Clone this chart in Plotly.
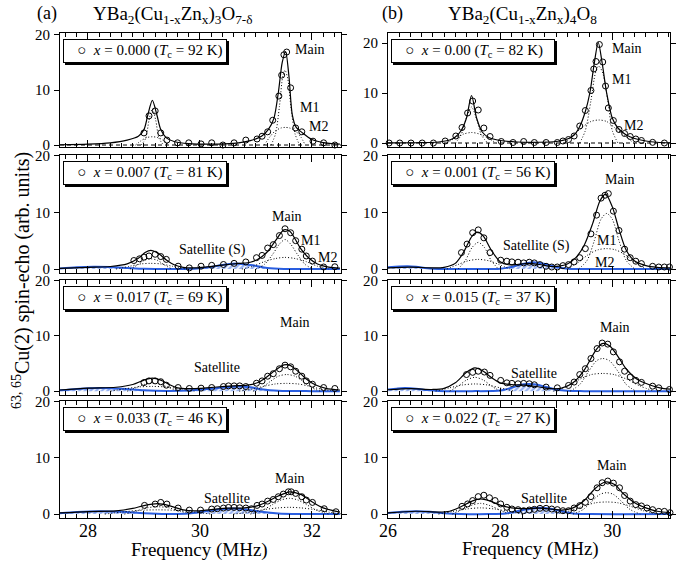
import plotly.graph_objects as go

W, H = 693, 566
FONT = "Liberation Serif"
BLUE = "#2a5ee0"

# ---------------- data: (a) YBa2(Cu1-xZnx)3O7-d ----------------
L1_data_x = [29.0, 29.09, 29.2, 29.3, 29.41, 29.6, 29.8, 30.02, 30.21, 30.41, 30.61, 30.82, 31.02, 31.11, 31.21, 31.3, 31.41, 31.46, 31.5, 31.55, 31.62, 31.71, 31.82, 32.02, 32.21, 32.41]
L1_data_y = [2.2, 5.3, 6.2, 2.2, 0.9, 0.4, 0.4, 0.2, 0.4, 0.0, 0.4, 0.9, 1.1, 1.6, 2.4, 4.5, 8.9, 12.7, 16.4, 16.9, 10.4, 3.1, 2.4, 0.7, 0.4, 0.0]
L1_fit_x = [27.5, 28.0, 28.4, 28.7, 28.9, 29.0, 29.07, 29.15, 29.23, 29.3, 29.4, 29.55, 29.8, 30.2, 30.6, 30.9, 31.1, 31.22, 31.32, 31.4, 31.47, 31.53, 31.59, 31.65, 31.72, 31.82, 32.0, 32.2, 32.5]
L1_fit_y = [0.05, 0.15, 0.4, 0.9, 1.6, 2.8, 5.5, 8.1, 5.5, 2.8, 1.3, 0.6, 0.25, 0.15, 0.3, 0.8, 1.6, 2.8, 4.8, 9.5, 15.0, 17.0, 12.5, 5.5, 3.2, 2.3, 1.0, 0.45, 0.15]
L1_a1_x = [28.95, 29.03, 29.09, 29.15, 29.21, 29.27, 29.35]
L1_a1_y = [0, 1.2, 4.5, 6.6, 4.5, 1.2, 0]
L1_a2_x = [28.85, 28.95, 29.05, 29.15, 29.25, 29.35, 29.45]
L1_a2_y = [0, 0.8, 1.35, 1.5, 1.35, 0.8, 0]
L1_m1_x = [31.27, 31.35, 31.42, 31.48, 31.52, 31.57, 31.63, 31.7, 31.78]
L1_m1_y = [0, 2.0, 7.0, 12.5, 13.6, 12.0, 6.5, 2.0, 0]
L1_m2_x = [31.15, 31.25, 31.35, 31.45, 31.52, 31.6, 31.7, 31.8, 31.88]
L1_m2_y = [0, 1.5, 2.6, 3.1, 3.2, 3.1, 2.6, 1.5, 0]

L2_data_x = [28.82, 28.92, 29.0, 29.09, 29.2, 29.3, 29.4, 29.61, 29.81, 30.02, 30.21, 30.42, 30.61, 30.82, 31.01, 31.11, 31.21, 31.31, 31.42, 31.52, 31.62, 31.71, 31.82, 31.9, 32.01, 32.21, 32.41]
L2_data_y = [1.5, 1.8, 2.1, 2.3, 2.6, 2.2, 1.7, 0.5, 0.2, 0.5, 0.65, 0.8, 1.0, 1.25, 2.0, 2.4, 3.7, 4.3, 5.9, 7.1, 6.4, 5.0, 3.5, 2.3, 1.4, 0.36, 0.4]
L2_fit_x = [27.5, 28.0, 28.4, 28.7, 28.9, 29.02, 29.12, 29.25, 29.4, 29.55, 29.7, 29.85, 30.1, 30.4, 30.7, 30.9, 31.05, 31.2, 31.35, 31.5, 31.6, 31.7, 31.8, 31.95, 32.1, 32.3, 32.5]
L2_fit_y = [0.1, 0.3, 0.45, 0.9, 1.9, 2.9, 3.3, 2.8, 1.6, 0.7, 0.3, 0.2, 0.35, 0.7, 1.0, 1.2, 1.8, 3.0, 5.0, 6.9, 6.7, 5.3, 3.6, 1.9, 0.9, 0.35, 0.15]
L2_a1_x = [28.75, 28.9, 29.0, 29.12, 29.25, 29.35, 29.5]
L2_a1_y = [0, 0.8, 1.5, 1.8, 1.5, 0.8, 0]
L2_a2_x = [28.5, 28.75, 28.95, 29.12, 29.3, 29.5, 29.75]
L2_a2_y = [0, 0.5, 0.9, 1.0, 0.9, 0.5, 0]
L2_m1_x = [31.0, 31.15, 31.3, 31.42, 31.52, 31.62, 31.74, 31.88, 32.02]
L2_m1_y = [0, 0.8, 2.6, 4.4, 5.2, 4.4, 2.6, 0.8, 0]
L2_m2_x = [30.75, 30.95, 31.15, 31.35, 31.52, 31.7, 31.9, 32.1, 32.3]
L2_m2_y = [0, 0.5, 1.3, 1.85, 2.05, 1.85, 1.3, 0.5, 0]
L2_s_x = [27.5, 27.8, 28.1, 28.4, 28.7, 29.0, 29.5, 29.9, 30.2, 30.45, 30.7, 30.95, 31.2, 31.5, 32.5]
L2_s_y = [0.1, 0.3, 0.4, 0.35, 0.2, 0.05, 0, 0.05, 0.35, 0.8, 0.95, 0.65, 0.2, 0.02, 0]

L3_data_x = [29.0, 29.09, 29.2, 29.3, 29.4, 29.61, 29.81, 30.02, 30.21, 30.42, 30.51, 30.61, 30.71, 30.82, 31.01, 31.11, 31.21, 31.31, 31.42, 31.52, 31.62, 31.71, 31.82, 31.9, 32.01, 32.21, 32.41]
L3_data_y = [1.55, 1.85, 1.85, 1.7, 1.07, 0.65, 0.48, 0.54, 0.65, 0.83, 0.95, 0.95, 0.95, 0.83, 1.43, 1.85, 2.7, 3.15, 4.05, 4.7, 4.4, 3.6, 2.7, 1.85, 1.25, 0.65, 0.48]
L3_fit_x = [27.5, 28.0, 28.5, 28.8, 29.0, 29.15, 29.3, 29.45, 29.6, 29.8, 30.0, 30.3, 30.6, 30.85, 31.05, 31.2, 31.35, 31.5, 31.6, 31.75, 31.9, 32.05, 32.25, 32.5]
L3_fit_y = [0.2, 0.55, 0.7, 1.2, 2.0, 2.35, 2.0, 1.2, 0.6, 0.45, 0.5, 0.75, 0.95, 1.1, 1.6, 2.6, 3.8, 4.75, 4.7, 3.6, 2.2, 1.2, 0.5, 0.2]
L3_a1_x = [28.7, 28.85, 29.0, 29.15, 29.3, 29.45, 29.6]
L3_a1_y = [0, 0.6, 1.2, 1.45, 1.2, 0.6, 0]
L3_a2_x = [28.4, 28.65, 28.9, 29.15, 29.4, 29.65, 29.9]
L3_a2_y = [0, 0.4, 0.75, 0.85, 0.75, 0.4, 0]
L3_m1_x = [30.95, 31.1, 31.25, 31.4, 31.55, 31.7, 31.85, 32.0, 32.15]
L3_m1_y = [0, 0.6, 1.7, 2.7, 3.0, 2.7, 1.7, 0.6, 0]
L3_m2_x = [30.7, 30.95, 31.15, 31.35, 31.55, 31.75, 31.95, 32.15, 32.4]
L3_m2_y = [0, 0.4, 0.9, 1.3, 1.4, 1.3, 0.9, 0.4, 0]
L3_s_x = [27.5, 27.8, 28.2, 28.6, 29.0, 29.4, 29.8, 30.2, 30.5, 30.7, 30.9, 31.1, 31.4, 32.0, 32.5]
L3_s_y = [0.15, 0.4, 0.55, 0.45, 0.15, 0.02, 0.1, 0.45, 0.75, 0.85, 0.7, 0.35, 0.08, 0, 0]

L4_data_x = [29.01, 29.2, 29.3, 29.41, 29.61, 29.81, 30.01, 30.21, 30.31, 30.42, 30.51, 30.61, 30.71, 30.82, 30.92, 31.02, 31.11, 31.21, 31.31, 31.4, 31.49, 31.58, 31.63, 31.71, 31.82, 31.9, 32.01, 32.22, 32.43]
L4_data_y = [1.54, 1.78, 2.07, 1.78, 1.07, 0.71, 0.71, 0.89, 0.95, 1.07, 1.18, 1.18, 1.12, 1.07, 0.95, 1.54, 1.78, 2.3, 2.6, 3.08, 3.55, 3.96, 3.96, 3.67, 3.08, 2.49, 2.07, 0.95, 0.41]
L4_fit_x = [27.5, 28.0, 28.5, 28.8, 29.0, 29.25, 29.45, 29.7, 29.9, 30.2, 30.5, 30.8, 31.0, 31.2, 31.4, 31.6, 31.8, 32.0, 32.2, 32.5]
L4_fit_y = [0.2, 0.45, 0.55, 1.0, 1.5, 1.85, 1.5, 0.75, 0.55, 0.8, 1.05, 1.1, 1.4, 2.2, 3.2, 3.95, 3.5, 2.2, 1.1, 0.35]
L4_a1_x = [28.65, 28.85, 29.05, 29.25, 29.45, 29.65, 29.85]
L4_a1_y = [0, 0.5, 1.1, 1.3, 1.1, 0.5, 0]
L4_a2_x = [28.3, 28.6, 28.9, 29.25, 29.6, 29.9, 30.2]
L4_a2_y = [0, 0.35, 0.65, 0.75, 0.65, 0.35, 0]
L4_m1_x = [30.9, 31.1, 31.3, 31.45, 31.6, 31.75, 31.9, 32.1, 32.3]
L4_m1_y = [0, 0.6, 1.7, 2.5, 2.8, 2.5, 1.7, 0.6, 0]
L4_m2_x = [30.6, 30.9, 31.15, 31.4, 31.6, 31.8, 32.05, 32.3, 32.55]
L4_m2_y = [0, 0.35, 0.8, 1.1, 1.2, 1.1, 0.8, 0.35, 0]
L4_s_x = [27.5, 27.8, 28.2, 28.6, 29.0, 29.4, 29.8, 30.1, 30.4, 30.6, 30.85, 31.1, 31.4, 31.8, 32.5]
L4_s_y = [0.15, 0.35, 0.5, 0.4, 0.15, 0.02, 0.1, 0.5, 0.9, 1.0, 0.8, 0.4, 0.1, 0, 0]

# ---------------- data: (b) YBa2(Cu1-xZnx)4O8 ----------------
R1_data_x = [26.02, 26.21, 26.41, 26.61, 26.81, 27.02, 27.21, 27.32, 27.42, 27.51, 27.61, 27.71, 27.82, 28.02, 28.23, 28.42, 28.61, 28.82, 29.02, 29.12, 29.22, 29.32, 29.42, 29.52, 29.62, 29.67, 29.71, 29.77, 29.83, 29.88, 29.93, 30.02, 30.12, 30.22, 30.32, 30.42, 30.52, 30.72, 30.93]
R1_data_y = [0, 0, 0, 0, 0, 0.4, 1.4, 3.1, 6.0, 8.4, 6.6, 3.0, 1.3, 0.3, 0.1, 0.3, 0.1, 0.1, 0.1, 0.4, 0.7, 1.4, 3.4, 6.5, 10.5, 14.8, 16.3, 19.7, 16.2, 11.4, 7.0, 4.5, 2.7, 1.9, 1.3, 0.8, 0.5, 0.13, 0.0]
R1_fit_x = [26.0, 26.5, 26.9, 27.1, 27.2, 27.3, 27.4, 27.49, 27.58, 27.68, 27.8, 28.0, 28.3, 28.7, 29.0, 29.2, 29.32, 29.42, 29.52, 29.6, 29.68, 29.75, 29.82, 29.9, 30.0, 30.1, 30.25, 30.4, 30.6, 30.8, 31.03]
R1_fit_y = [0.02, 0.05, 0.2, 0.6, 1.2, 2.4, 5.0, 9.5, 5.0, 2.2, 1.1, 0.5, 0.2, 0.15, 0.3, 0.8, 1.6, 3.3, 6.3, 10.0, 16.0, 20.1, 16.0, 10.0, 5.0, 3.0, 1.6, 0.9, 0.4, 0.15, 0.05]
R1_a1_x = [27.2, 27.3, 27.39, 27.49, 27.58, 27.67, 27.78]
R1_a1_y = [0, 1.5, 4.8, 7.2, 4.8, 1.5, 0]
R1_a2_x = [27.05, 27.2, 27.35, 27.49, 27.63, 27.78, 27.93]
R1_a2_y = [0, 1.0, 1.8, 2.1, 1.8, 1.0, 0]
R1_m1_x = [29.42, 29.52, 29.62, 29.7, 29.76, 29.83, 29.92, 30.0, 30.1]
R1_m1_y = [0, 2.5, 8.5, 14.0, 15.4, 14.0, 8.5, 2.5, 0]
R1_m2_x = [29.15, 29.3, 29.45, 29.62, 29.76, 29.9, 30.05, 30.22, 30.38]
R1_m2_y = [0, 1.5, 3.0, 4.3, 4.6, 4.3, 3.0, 1.5, 0]

R2_data_x = [27.31, 27.41, 27.51, 27.61, 27.71, 27.82, 28.01, 28.12, 28.21, 28.32, 28.42, 28.52, 28.61, 28.71, 28.82, 28.92, 29.02, 29.12, 29.22, 29.32, 29.42, 29.52, 29.62, 29.72, 29.8, 29.87, 29.93, 30.02, 30.12, 30.22, 30.32, 30.42, 30.52, 30.72, 30.83, 30.93, 31.02]
R2_data_y = [2.9, 4.4, 6.4, 6.9, 5.5, 2.9, 1.56, 1.38, 1.26, 1.2, 1.08, 1.2, 1.08, 0.78, 0.48, 0.36, 0.36, 0.6, 0.78, 1.26, 2.0, 3.6, 6.2, 9.5, 12.5, 13.0, 13.3, 10.2, 6.8, 3.5, 2.0, 1.38, 0.96, 0.48, 0.36, 0.36, 0.36]
R2_fit_x = [26.0, 26.4, 26.8, 27.0, 27.2, 27.35, 27.5, 27.6, 27.7, 27.85, 28.0, 28.15, 28.3, 28.5, 28.7, 28.9, 29.05, 29.2, 29.35, 29.5, 29.65, 29.78, 29.88, 30.0, 30.12, 30.25, 30.4, 30.6, 30.8, 31.03]
R2_fit_y = [0.2, 0.35, 0.2, 0.3, 1.0, 3.0, 5.8, 6.5, 5.8, 3.2, 1.3, 0.75, 0.8, 1.0, 0.8, 0.45, 0.5, 0.9, 2.0, 4.2, 8.0, 12.0, 13.2, 11.0, 7.0, 3.3, 1.4, 0.6, 0.3, 0.2]
R2_a1_x = [27.25, 27.38, 27.5, 27.61, 27.72, 27.84, 27.97]
R2_a1_y = [0, 1.5, 3.8, 4.7, 3.8, 1.5, 0]
R2_a2_x = [27.05, 27.25, 27.43, 27.61, 27.8, 27.98, 28.18]
R2_a2_y = [0, 0.8, 1.45, 1.7, 1.45, 0.8, 0]
R2_m1_x = [29.4, 29.55, 29.68, 29.8, 29.9, 30.0, 30.12, 30.25, 30.4]
R2_m1_y = [0, 1.5, 5.0, 8.8, 9.8, 8.8, 5.0, 1.5, 0]
R2_m2_x = [29.2, 29.4, 29.58, 29.75, 29.9, 30.05, 30.22, 30.4, 30.6]
R2_m2_y = [0, 1.2, 2.6, 3.4, 3.6, 3.4, 2.6, 1.2, 0]
R2_s_x = [26.0, 26.2, 26.35, 26.5, 26.7, 26.9, 27.5, 28.0, 28.2, 28.4, 28.6, 28.8, 29.0, 29.2, 29.5, 31.03]
R2_s_y = [0.3, 0.45, 0.5, 0.4, 0.15, 0.02, 0, 0.05, 0.35, 0.9, 1.2, 0.9, 0.35, 0.05, 0, 0]

R3_data_x = [27.4, 27.51, 27.61, 27.72, 27.82, 28.01, 28.12, 28.21, 28.32, 28.42, 28.52, 28.61, 28.82, 29.02, 29.22, 29.32, 29.42, 29.52, 29.62, 29.73, 29.82, 29.92, 30.02, 30.13, 30.22, 30.32, 30.42, 30.52, 30.72, 30.83, 31.02]
R3_data_y = [3.0, 3.4, 3.6, 3.45, 2.85, 1.94, 1.5, 1.4, 1.33, 1.4, 1.33, 1.15, 0.73, 0.6, 1.03, 1.64, 3.0, 4.06, 5.9, 7.7, 8.7, 8.5, 7.1, 5.3, 3.6, 2.55, 1.94, 1.58, 0.9, 0.6, 0.3]
R3_fit_x = [26.0, 26.4, 26.8, 27.0, 27.2, 27.4, 27.55, 27.7, 27.85, 28.0, 28.2, 28.45, 28.7, 28.9, 29.1, 29.3, 29.5, 29.7, 29.82, 29.95, 30.1, 30.25, 30.45, 30.65, 30.85, 31.03]
R3_fit_y = [0.25, 0.45, 0.3, 0.5, 1.5, 3.4, 4.2, 3.6, 2.4, 1.5, 1.2, 1.1, 0.75, 0.45, 0.55, 1.5, 3.8, 7.3, 8.6, 8.2, 6.3, 4.0, 2.1, 1.2, 0.6, 0.35]
R3_a1_x = [27.1, 27.25, 27.4, 27.55, 27.7, 27.85, 28.0]
R3_a1_y = [0, 0.9, 2.0, 2.5, 2.0, 0.9, 0]
R3_a2_x = [26.85, 27.1, 27.32, 27.55, 27.78, 28.0, 28.25]
R3_a2_y = [0, 0.6, 1.1, 1.3, 1.1, 0.6, 0]
R3_m1_x = [29.25, 29.42, 29.58, 29.72, 29.83, 29.95, 30.1, 30.25, 30.42]
R3_m1_y = [0, 1.2, 3.6, 5.5, 5.9, 5.5, 3.6, 1.2, 0]
R3_m2_x = [28.95, 29.2, 29.43, 29.63, 29.83, 30.03, 30.25, 30.5, 30.75]
R3_m2_y = [0, 0.9, 2.2, 3.0, 3.2, 3.0, 2.2, 0.9, 0]
R3_s_x = [26.0, 26.15, 26.3, 26.5, 26.7, 26.9, 27.5, 28.0, 28.2, 28.35, 28.5, 28.65, 28.8, 29.0, 29.2, 29.5, 31.03]
R3_s_y = [0.3, 0.45, 0.55, 0.45, 0.2, 0.03, 0, 0.1, 0.6, 1.1, 1.3, 1.2, 0.8, 0.3, 0.05, 0, 0]

R4_data_x = [27.32, 27.42, 27.51, 27.61, 27.71, 27.81, 27.91, 28.01, 28.12, 28.21, 28.32, 28.42, 28.52, 28.61, 28.71, 28.82, 28.92, 29.02, 29.12, 29.22, 29.32, 29.42, 29.52, 29.62, 29.73, 29.82, 29.92, 30.02, 30.13, 30.22, 30.32, 30.42, 30.52, 30.62, 30.72, 30.83, 30.93, 31.03]
R4_data_y = [1.38, 1.8, 2.4, 3.1, 3.35, 2.9, 2.4, 1.8, 1.2, 0.9, 0.78, 0.6, 0.72, 0.84, 1.02, 1.02, 0.9, 0.78, 0.6, 0.6, 1.08, 1.5, 2.1, 3.1, 4.67, 5.57, 5.87, 5.5, 4.67, 3.3, 2.3, 1.68, 1.44, 1.08, 0.78, 0.48, 0.48, 0.24]
R4_fit_x = [26.0, 26.5, 26.9, 27.1, 27.3, 27.5, 27.65, 27.8, 28.0, 28.2, 28.45, 28.7, 28.9, 29.1, 29.3, 29.5, 29.7, 29.88, 30.05, 30.2, 30.4, 30.6, 30.8, 31.03]
R4_fit_y = [0.2, 0.5, 0.35, 0.5, 1.3, 2.3, 2.7, 2.4, 1.6, 1.1, 0.95, 1.05, 0.9, 0.7, 1.1, 2.4, 4.6, 5.7, 5.2, 3.6, 2.0, 1.1, 0.5, 0.25]
R4_a1_x = [27.15, 27.3, 27.47, 27.65, 27.82, 28.0, 28.15]
R4_a1_y = [0, 0.7, 1.5, 1.9, 1.5, 0.7, 0]
R4_a2_x = [26.9, 27.15, 27.4, 27.65, 27.9, 28.15, 28.4]
R4_a2_y = [0, 0.45, 0.9, 1.1, 0.9, 0.45, 0]
R4_m1_x = [29.3, 29.48, 29.64, 29.78, 29.9, 30.02, 30.16, 30.32, 30.5]
R4_m1_y = [0, 0.8, 2.3, 3.5, 3.8, 3.5, 2.3, 0.8, 0]
R4_m2_x = [29.0, 29.25, 29.48, 29.7, 29.9, 30.1, 30.32, 30.55, 30.8]
R4_m2_y = [0, 0.6, 1.4, 2.0, 2.15, 2.0, 1.4, 0.6, 0]
R4_s_x = [26.0, 26.25, 26.5, 26.75, 27.0, 27.3, 27.8, 28.1, 28.3, 28.5, 28.7, 28.9, 29.1, 29.3, 29.6, 31.03]
R4_s_y = [0.2, 0.4, 0.5, 0.4, 0.15, 0.02, 0, 0.1, 0.5, 0.9, 1.1, 0.95, 0.5, 0.1, 0, 0]

# legend texts
legend_texts = [
    "<i>x</i> = 0.000 (<i>T</i><sub>c</sub> = 92 K)",
    "<i>x</i> = 0.007 (<i>T</i><sub>c</sub> = 81 K)",
    "<i>x</i> = 0.017 (<i>T</i><sub>c</sub> = 69 K)",
    "<i>x</i> = 0.033 (<i>T</i><sub>c</sub> = 46 K)",
    "<i>x</i> = 0.00 (<i>T</i><sub>c</sub> = 82 K)",
    "<i>x</i> = 0.001 (<i>T</i><sub>c</sub> = 56 K)",
    "<i>x</i> = 0.015 (<i>T</i><sub>c</sub> = 37 K)",
    "<i>x</i> = 0.022 (<i>T</i><sub>c</sub> = 27 K)",
]

# peak labels: (panel, text, freq, value)
peak_labels = [
    (1, "Main", 31.96, 17.4), (1, "M1", 31.96, 6.9), (1, "M2", 32.12, 3.3),
    (2, "Main", 31.55, 9.3), (2, "M1", 31.97, 5.0), (2, "M2", 32.28, 2.0), (2, "Satellite (S)", 30.23, 3.4),
    (3, "Main", 31.7, 12.5), (3, "Satellite", 30.3, 4.2),
    (4, "Main", 31.61, 6.3), (4, "Satellite", 30.49, 2.8),
    (5, "Main", 30.26, 18.8), (5, "M1", 30.16, 12.6), (5, "M2", 30.38, 3.5),
    (6, "Main", 30.14, 15.8), (6, "M1", 29.89, 5.0), (6, "M2", 29.86, 1.2), (6, "Satellite (S)", 28.64, 4.0),
    (7, "Main", 30.04, 11.6), (7, "Satellite", 28.6, 3.2),
    (8, "Main", 29.99, 8.6), (8, "Satellite", 28.79, 2.7),
]

panels = [
    (L1_data_x, L1_data_y, L1_fit_x, L1_fit_y, [(L1_a1_x, L1_a1_y), (L1_a2_x, L1_a2_y), (L1_m1_x, L1_m1_y), (L1_m2_x, L1_m2_y)], None),
    (L2_data_x, L2_data_y, L2_fit_x, L2_fit_y, [(L2_a1_x, L2_a1_y), (L2_a2_x, L2_a2_y), (L2_m1_x, L2_m1_y), (L2_m2_x, L2_m2_y)], (L2_s_x, L2_s_y)),
    (L3_data_x, L3_data_y, L3_fit_x, L3_fit_y, [(L3_a1_x, L3_a1_y), (L3_a2_x, L3_a2_y), (L3_m1_x, L3_m1_y), (L3_m2_x, L3_m2_y)], (L3_s_x, L3_s_y)),
    (L4_data_x, L4_data_y, L4_fit_x, L4_fit_y, [(L4_a1_x, L4_a1_y), (L4_a2_x, L4_a2_y), (L4_m1_x, L4_m1_y), (L4_m2_x, L4_m2_y)], (L4_s_x, L4_s_y)),
    (R1_data_x, R1_data_y, R1_fit_x, R1_fit_y, [(R1_a1_x, R1_a1_y), (R1_a2_x, R1_a2_y), (R1_m1_x, R1_m1_y), (R1_m2_x, R1_m2_y)], None),
    (R2_data_x, R2_data_y, R2_fit_x, R2_fit_y, [(R2_a1_x, R2_a1_y), (R2_a2_x, R2_a2_y), (R2_m1_x, R2_m1_y), (R2_m2_x, R2_m2_y)], (R2_s_x, R2_s_y)),
    (R3_data_x, R3_data_y, R3_fit_x, R3_fit_y, [(R3_a1_x, R3_a1_y), (R3_a2_x, R3_a2_y), (R3_m1_x, R3_m1_y), (R3_m2_x, R3_m2_y)], (R3_s_x, R3_s_y)),
    (R4_data_x, R4_data_y, R4_fit_x, R4_fit_y, [(R4_a1_x, R4_a1_y), (R4_a2_x, R4_a2_y), (R4_m1_x, R4_m1_y), (R4_m2_x, R4_m2_y)], (R4_s_x, R4_s_y)),
]

# ---------------- layout geometry (pixels) ----------------
rows_px = [(33, 147), (155, 273), (280, 395), (401, 518)]
cols_px = [(60, 341), (388, 670)]
xranges = [[27.5, 32.52], [26.0, 31.03]]
yranges = {0: [-0.36, 20.36], 4: [-0.8, 22.0]}
default_yr = [-0.7, 20.1]

fig = go.Figure()
layout = dict(
    width=W, height=H, margin=dict(l=0, r=0, t=0, b=0, autoexpand=False),
    paper_bgcolor="white", plot_bgcolor="white",
    showlegend=False, font=dict(family=FONT, color="black"),
)
annotations = []

for i, (dx, dy, fx, fy, comps, sat) in enumerate(panels):
    n = i + 1
    col = i // 4
    row = i % 4
    xa = "x" if n == 1 else f"x{n}"
    ya = "y" if n == 1 else f"y{n}"
    top, bot = rows_px[row]
    c0, c1 = cols_px[col]
    xr = xranges[col]
    yr = yranges.get(i, default_yr)

    if sat is not None:
        fig.add_trace(go.Scatter(
            x=sat[0], y=sat[1], xaxis=xa, yaxis=ya, mode="lines",
            line=dict(color=BLUE, width=2, shape="spline", smoothing=0.8),
            fill="tozeroy", fillcolor="rgba(0,0,0,0)",
            fillpattern=dict(shape="/", fgcolor="#2f63e4", bgcolor="rgba(255,255,255,0)", size=4, solidity=0.6),
            hoverinfo="skip"))
    else:
        fig.add_trace(go.Scatter(
            x=xr, y=[0, 0], xaxis=xa, yaxis=ya, mode="lines",
            line=dict(color="black", width=1, dash="4px,3px"), hoverinfo="skip"))
    for cx, cy in comps:
        fig.add_trace(go.Scatter(
            x=cx, y=cy, xaxis=xa, yaxis=ya, mode="lines",
            line=dict(color="black", width=1, dash="1px,2px", shape="spline", smoothing=0.8),
            hoverinfo="skip"))
    fig.add_trace(go.Scatter(
        x=fx, y=fy, xaxis=xa, yaxis=ya, mode="lines",
        line=dict(color="black", width=1.2, shape="spline", smoothing=0.8)))
    fig.add_trace(go.Scatter(
        x=dx, y=dy, xaxis=xa, yaxis=ya, mode="markers", cliponaxis=False,
        marker=dict(symbol="circle-open", size=6, color="black", line=dict(width=1, color="black"))))

    is_bottom = row == 3
    tv = list(range(int(xr[0] + 0.99), int(xr[1]) + 1))
    tt = [str(v) if v % 2 == 0 else "" for v in tv]
    layout["xaxis" if n == 1 else f"xaxis{n}"] = dict(
        domain=[c0 / W, c1 / W], range=xr, anchor=ya, automargin=False,
        showline=True, linecolor="black", linewidth=1, mirror="ticks",
        ticks="inside", ticklen=7, tickwidth=1, tickcolor="black",
        tickvals=tv, ticktext=tt, showticklabels=is_bottom, ticklabelstandoff=-4,
        tickfont=dict(family=FONT, size=18, color="black"),
        minor=dict(dtick=0.2, tick0=0, ticks="inside", ticklen=4, tickcolor="black", tickwidth=1),
        showgrid=False, zeroline=False,
    )
    layout["yaxis" if n == 1 else f"yaxis{n}"] = dict(
        domain=[1 - bot / H, 1 - top / H], range=yr, anchor=xa, automargin=False,
        showline=True, linecolor="black", linewidth=1, mirror="ticks",
        ticks="outside", ticklen=5, tickwidth=1, tickcolor="black",
        tickvals=[0, 10, 20], ticklabelstandoff=1,
        tickfont=dict(family=FONT, size=15, color="black"),
        showgrid=False, zeroline=False,
    )

    # legend box with shadow
    bx = (c0 + 3) / W
    by = 1 - (top + 6) / H
    for shadow in (True, False):
        annotations.append(dict(
            xref="paper", yref="paper", x=bx, y=by, xanchor="left", yanchor="top",
            xshift=2 if shadow else 0, yshift=-2 if shadow else 0,
            text="" if shadow else "   ○  " + legend_texts[i],
            showarrow=False, align="left", width=158, height=18,
            bgcolor="black" if shadow else "white",
            bordercolor="black", borderwidth=1, borderpad=2,
            font=dict(family=FONT, size=15, color="black"),
        ))

for (p, txt, fx_, vy_) in peak_labels:
    annotations.append(dict(
        xref="x" if p == 1 else f"x{p}", yref="y" if p == 1 else f"y{p}",
        x=fx_, y=vy_, text=txt, showarrow=False, xanchor="center", yanchor="middle",
        font=dict(family=FONT, size=14, color="black")))


def paper_text(px, py, text, size, angle=0):
    return dict(xref="paper", yref="paper", x=px / W, y=1 - py / H, text=text,
                showarrow=False, xanchor="center", yanchor="middle", textangle=angle,
                font=dict(family=FONT, size=size, color="black"))


annotations += [
    paper_text(47, 14, "(a)", 18),
    paper_text(173, 15, "YBa<sub>2</sub>(Cu<sub>1-x</sub>Zn<sub>x</sub>)<sub>3</sub>O<sub>7-δ</sub>", 19),
    paper_text(392, 14, "(b)", 18),
    paper_text(522, 15, "YBa<sub>2</sub>(Cu<sub>1-x</sub>Zn<sub>x</sub>)<sub>4</sub>O<sub>8</sub>", 19),
    paper_text(200, 550, "Frequency (MHz)", 19),
    paper_text(530, 549, "Frequency (MHz)", 19),
    paper_text(21, 281, "<sup>63, 65</sup>Cu(2) spin-echo (arb. units)", 20, -90),
]

layout["annotations"] = annotations
fig.update_layout(**layout)
fig.write_html("out.html")
